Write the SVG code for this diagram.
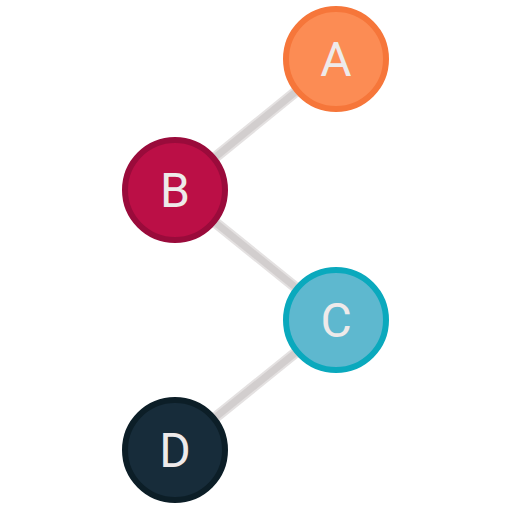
<svg xmlns="http://www.w3.org/2000/svg" width="512" height="512" viewBox="0 0 512 512">
<style>
.edge-o{stroke:#e4e1e1;stroke-width:11;stroke-linecap:butt}
.edge-i{stroke:#d2cece;stroke-width:7;stroke-linecap:butt}
.node circle{stroke-width:6}
.node text{font-family:Roboto,"Liberation Sans",sans-serif;font-size:48px;fill:#eeeaea;text-anchor:middle;dominant-baseline:central}
</style>
<rect width="512" height="512" fill="#ffffff"/>
<g id="edges">
<line class="edge-o" x1="336" y1="59" x2="175" y2="190"/>
<line class="edge-o" x1="175" y1="190" x2="336" y2="320"/>
<line class="edge-o" x1="336" y1="320" x2="175" y2="450"/>
<line class="edge-i" x1="336" y1="59" x2="175" y2="190"/>
<line class="edge-i" x1="175" y1="190" x2="336" y2="320"/>
<line class="edge-i" x1="336" y1="320" x2="175" y2="450"/>
</g>
<g id="A" class="node"><circle cx="336" cy="59" r="50" fill="#fc8c54" stroke="#f6763a"/><text x="336" y="59">A</text></g>
<g id="B" class="node"><circle cx="175" cy="190" r="50" fill="#bb0f46" stroke="#9a0b3b"/><text x="175" y="190">B</text></g>
<g id="C" class="node"><circle cx="336" cy="320" r="50" fill="#5eb8cf" stroke="#0aa9bd"/><text x="336" y="320">C</text></g>
<g id="D" class="node"><circle cx="175" cy="450" r="50" fill="#172c3a" stroke="#0c1e27"/><text x="175" y="450">D</text></g>
</svg>
